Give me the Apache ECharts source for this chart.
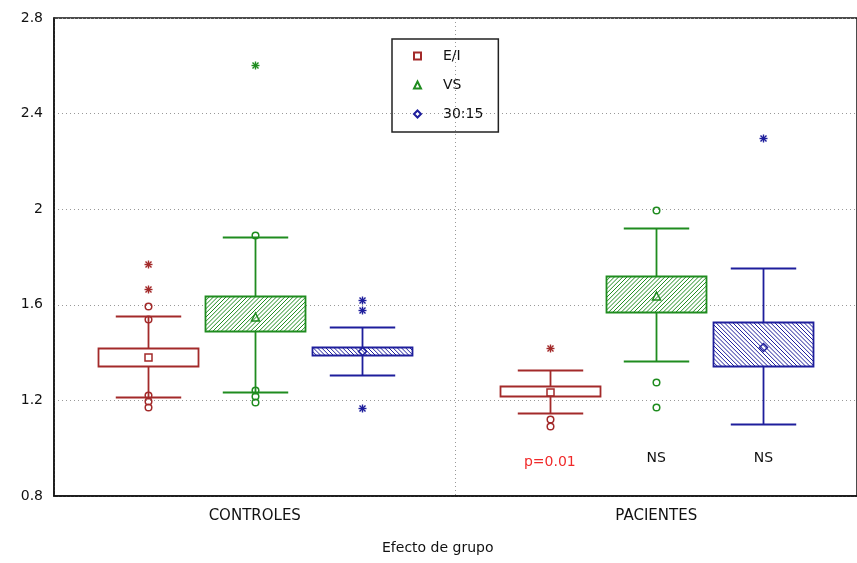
<!DOCTYPE html>
<html>
<head>
<meta charset="utf-8">
<script src="https://cdn.jsdelivr.net/npm/echarts@6/dist/echarts.min.js"></script>
<style>
  html, body { margin: 0; padding: 0; background: #fff; }
  #chart { width: 857px; height: 563px; }
</style>
</head>
<body>
<div id="chart"></div>
<script>
// categories and groups
var categories = ['CONTROLES', 'PACIENTES'];
var groups = ['E/I', 'VS', '30:15'];

// per category: [whisker low, box low, mean, box high, whisker high]
var boxEI = [[1.215, 1.345, 1.382, 1.420, 1.555], [1.149, 1.219, 1.237, 1.262, 1.328]];
var boxVS = [[1.234, 1.491, 1.550, 1.635, 1.885], [1.365, 1.569, 1.635, 1.719, 1.921]];
var box3015 = [[1.307, 1.391, 1.407, 1.425, 1.507], [1.100, 1.342, 1.425, 1.528, 1.756]];

// outliers (circles) and extremes (asterisks) per category
var outliersEI = [[1.597, 1.540, 1.223, 1.199, 1.174], [1.122, 1.093]];
var extremesEI = [[1.772, 1.667], [1.421]];
var outliersVS = [[1.890, 1.244, 1.219, 1.195], [1.998, 1.279, 1.174]];
var extremesVS = [[2.605], []];
var outliers3015 = [[], []];
var extremes3015 = [[1.621, 1.579, 1.170], [2.298]];

// significance labels under each group
var pLabels = [['', '', ''], ['p=0.01', 'NS', 'NS']];

var FONT = 'DejaVu Sans';
var colors = ['#a32a2a', '#1f8c1f', '#1e1e9c'];
var offsets = [-0.265, 0, 0.267];
var hatchDir = [0, 1, -1];

// diagonal hatch lines clipped to the box rectangle
function hatchLines(x0, y0, x1, y1, dir, color) {
    var out = [], step = 4.2, k, a, b;
    var s = { stroke: color, lineWidth: 1 };
    if (dir > 0) {
        for (k = x0 + y0 + step; k < x1 + y1; k += step) {
            a = Math.max(x0, k - y1); b = Math.min(x1, k - y0);
            if (b > a) out.push({ type: 'line', shape: { x1: a, y1: k - a, x2: b, y2: k - b }, style: s });
        }
    } else if (dir < 0) {
        for (k = x0 - y1 + step; k < x1 - y0; k += step) {
            a = Math.max(x0, k + y0); b = Math.min(x1, k + y1);
            if (b > a) out.push({ type: 'line', shape: { x1: a, y1: a - k, x2: b, y2: b - k }, style: s });
        }
    }
    return out;
}

function markerShape(idx, x, y, color) {
    var style = { stroke: color, fill: 'none', lineWidth: 1.5 };
    if (idx === 0) {
        return { type: 'rect', shape: { x: x - 3.5, y: y - 3.5, width: 7, height: 7 }, style: style };
    }
    if (idx === 1) {
        return { type: 'polygon', shape: { points: [[x, y - 4.5], [x + 4, y + 3.5], [x - 4, y + 3.5]] }, style: style };
    }
    return { type: 'polygon', shape: { points: [[x, y - 4], [x + 4, y], [x, y + 4], [x - 4, y]] }, style: style };
}

function boxRenderer(idx) {
    var color = colors[idx];
    return function (params, api) {
        var cat = api.value(0);
        var band = api.size([1, 0])[0];
        var cx = Math.round(api.coord([cat, 1])[0] + offsets[idx] * band) + 0.5;
        var y = function (d) { return Math.round(api.coord([cat, api.value(d)])[1]) + 0.5; };
        var lo = y(1), q1 = y(2), mean = y(3), q3 = y(4), hi = y(5);
        var bw = Math.round(band * 0.25), cw = band * 0.163;
        var bx = cx - bw / 2;
        var line = { stroke: color, lineWidth: 1.8 };
        var children = [
            { type: 'line', shape: { x1: cx, y1: hi, x2: cx, y2: q3 }, style: line },
            { type: 'line', shape: { x1: cx, y1: q1, x2: cx, y2: lo }, style: line },
            { type: 'line', shape: { x1: cx - cw / 2, y1: hi, x2: cx + cw / 2, y2: hi }, style: line },
            { type: 'line', shape: { x1: cx - cw / 2, y1: lo, x2: cx + cw / 2, y2: lo }, style: line },
            { type: 'rect', shape: { x: bx, y: q3, width: bw, height: q1 - q3 }, style: { fill: '#fff' } }
        ];
        children = children.concat(hatchLines(bx, q3, bx + bw, q1, hatchDir[idx], color));
        children.push({ type: 'rect', shape: { x: bx, y: q3, width: bw, height: q1 - q3 },
                        style: { fill: 'none', stroke: color, lineWidth: 1.8 } });
        children.push(markerShape(idx, cx, mean, color));
        return { type: 'group', children: children };
    };
}

function pointRenderer(idx) {
    var color = colors[idx];
    return function (params, api) {
        var cat = api.value(0);
        var band = api.size([1, 0])[0];
        var p = api.coord([cat, api.value(1)]);
        var x = Math.round(p[0] + offsets[idx] * band) + 0.5;
        var yy = Math.round(p[1]) + 0.5;
        if (api.value(2) === 0) {
            return { type: 'circle', shape: { cx: x, cy: yy, r: 3.3 },
                     style: { stroke: color, fill: 'none', lineWidth: 1.5 } };
        }
        var s = { stroke: color, lineWidth: 1.4 }, r = 4, d = 3;
        return {
            type: 'group',
            children: [
                { type: 'line', shape: { x1: x - r, y1: yy, x2: x + r, y2: yy }, style: s },
                { type: 'line', shape: { x1: x, y1: yy - r, x2: x, y2: yy + r }, style: s },
                { type: 'line', shape: { x1: x - d, y1: yy - d, x2: x + d, y2: yy + d }, style: s },
                { type: 'line', shape: { x1: x - d, y1: yy + d, x2: x + d, y2: yy - d }, style: s }
            ]
        };
    };
}

function boxData(box) {
    return box.map(function (b, i) { return [i].concat(b); });
}

function pointData(outliers, extremes) {
    var out = [];
    outliers.forEach(function (vals, i) { vals.forEach(function (v) { out.push([i, v, 0]); }); });
    extremes.forEach(function (vals, i) { vals.forEach(function (v) { out.push([i, v, 1]); }); });
    return out;
}

var boxes = [boxEI, boxVS, box3015];
var outs = [outliersEI, outliersVS, outliers3015];
var exts = [extremesEI, extremesVS, extremes3015];

var series = [];
groups.forEach(function (name, i) {
    series.push({
        name: name, type: 'custom', renderItem: boxRenderer(i),
        itemStyle: { color: colors[i] },
        encode: { x: 0, y: [1, 2, 3, 4, 5] },
        data: boxData(boxes[i]), z: 2
    });
    series.push({
        name: name, type: 'custom', renderItem: pointRenderer(i),
        itemStyle: { color: colors[i] },
        encode: { x: 0, y: 1 },
        data: pointData(outs[i], exts[i]), z: 3
    });
});

var labelData = [];
pLabels.forEach(function (row, c) {
    row.forEach(function (t, g) { if (t) labelData.push([c, g]); });
});
series.push({
    type: 'custom', silent: true,
    renderItem: function (params, api) {
        var cat = api.value(0), g = api.value(1);
        var band = api.size([1, 0])[0];
        var p = api.coord([cat, 0.95]);
        return {
            type: 'text',
            style: {
                x: p[0] + offsets[g] * band, y: p[1] + (g === 0 ? 2 : -2),
                text: pLabels[cat][g], align: 'center', verticalAlign: 'middle',
                fill: g === 0 ? '#f02a2a' : '#111', font: '14px "' + FONT + '"'
            }
        };
    },
    encode: { x: 0 },
    data: labelData, z: 3
});

var chart = echarts.init(document.getElementById('chart'));
chart.setOption({
    animation: false,
    backgroundColor: '#fff',
    grid: { left: 54, top: 18, right: -5, bottom: 67, show: true, borderColor: '#111', borderWidth: 1.5 },
    legend: {
        orient: 'vertical', left: 392, top: 39,
        data: [
            { name: 'E/I', icon: 'emptyRect' },
            { name: 'VS', icon: 'emptyTriangle' },
            { name: '30:15', icon: 'emptyDiamond' }
        ],
        itemWidth: 7, itemHeight: 7, itemGap: 15,
        symbolKeepAspect: true,
        itemStyle: { borderWidth: 1.5 },
        padding: [10, 15, 11, 21],
        borderColor: '#222', borderWidth: 1.5, borderRadius: 0,
        selectedMode: false,
        textStyle: { fontSize: 14, lineHeight: 14, fontFamily: FONT, color: '#111', padding: [0, 0, 0, 17] }
    },
    xAxis: {
        type: 'category', data: categories, boundaryGap: true,
        axisLine: { lineStyle: { color: '#111', width: 1.5 } },
        axisTick: { inside: true, length: 4, lineStyle: { color: '#111' } },
        axisLabel: { margin: 13, fontSize: 15, fontFamily: FONT, color: '#111' },
        splitLine: { show: true, lineStyle: { color: '#999', type: [1, 3] } }
    },
    yAxis: {
        type: 'value', min: 0.8, max: 2.8, interval: 0.4,
        axisLine: { show: true, lineStyle: { color: '#111', width: 1.5 } },
        axisTick: { show: false },
        axisLabel: { margin: 11, fontSize: 14, fontFamily: FONT, color: '#111' },
        splitLine: { show: true, lineStyle: { color: '#999', type: [1, 3] } }
    },
    graphic: [{
        type: 'text', left: 382, top: 541,
        style: { text: 'Efecto de grupo', font: '14px "' + FONT + '"', fill: '#111' }
    }],
    series: series
});
</script>
</body>
</html>
